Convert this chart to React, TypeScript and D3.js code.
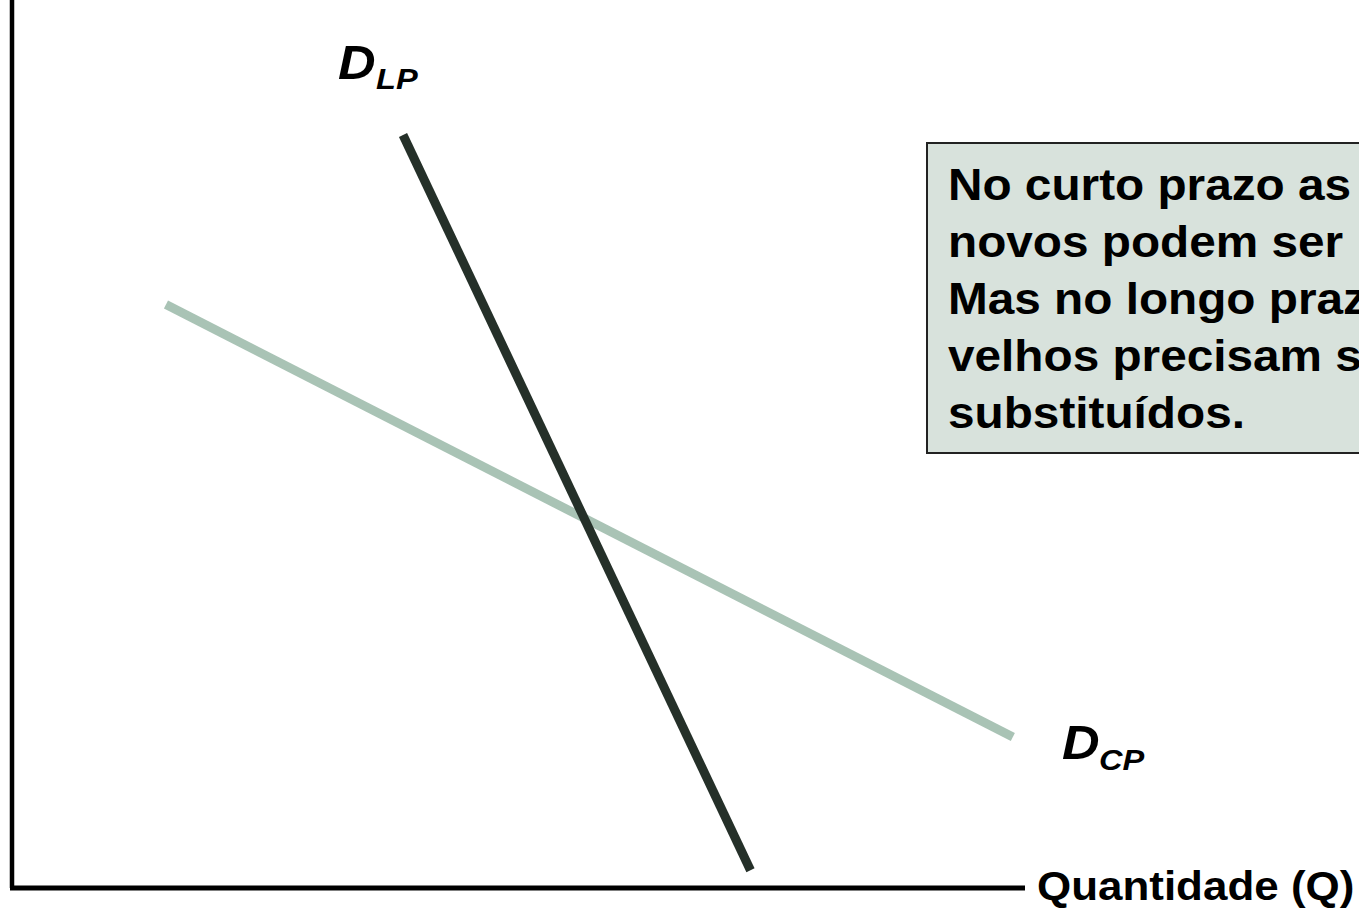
import React from "react";
import * as d3 from "d3";

const W = 1359;
const H = 911;

// Demand curves (quantity, price) in abstract units 0..100
const dLongTerm = [
  { q: 38.6, p: 84.8 },
  { q: 72.9, p: 2.0 },
];
const dShortTerm = [
  { q: 15.2, p: 65.7 },
  { q: 98.8, p: 17.0 },
];
const boxLines = [
  "No curto prazo as",
  "novos podem ser",
  "Mas no longo prazo",
  "velhos precisam ser",
  "substituídos.",
];
const xAxisLabel = "Quantidade (Q)";

const FONT = "Liberation Sans, Arial, Helvetica, sans-serif";
const SX = 1.085;

export default function App() {
  const x = d3.scaleLinear().domain([0, 100]).range([12, 1025]);
  const y = d3.scaleLinear().domain([0, 100]).range([888, 0]);
  const line = d3
    .line<{ q: number; p: number }>()
    .x((d) => x(d.q))
    .y((d) => y(d.p));

  const T = (props: any) => {
    const { x: tx, y: ty, children, ...rest } = props;
    return (
      <text transform={`translate(${tx},${ty}) scale(${SX},1)`} fontFamily={FONT} fontWeight="bold" {...rest}>
        {children}
      </text>
    );
  };

  return (
    <svg
      width={W}
      height={H}
      style={{ position: "absolute", left: 0, top: 0, background: "#fff" }}
    >
      {/* axes */}
      <line x1={x(0)} y1={0} x2={x(0)} y2={y(0)} stroke="#000" strokeWidth={4.5} />
      <line x1={x(0) - 2} y1={y(0)} x2={x(100)} y2={y(0)} stroke="#000" strokeWidth={5} />

      {/* curves */}
      <path d={line(dShortTerm) || ""} stroke="#a9c3b5" strokeWidth={9} fill="none" />
      <path d={line(dLongTerm) || ""} stroke="#253029" strokeWidth={9} fill="none" />

      {/* labels */}
      <T x={338} y={79} fontSize={48} fontStyle="italic">D</T>
      <T x={376} y={89} fontSize={30} fontStyle="italic">LP</T>
      <T x={1062} y={759} fontSize={48} fontStyle="italic">D</T>
      <T x={1099} y={770} fontSize={30} fontStyle="italic">CP</T>

      <T x={1037} y={900} fontSize={40.5}>{xAxisLabel}</T>

      {/* text box */}
      <rect x={927} y={143} width={460} height={310} fill="#d8e2dc" stroke="#222" strokeWidth={2} />
      {boxLines.map((t, i) => (
        <T key={i} x={948} y={200 + i * 57} fontSize={44}>
          {t}
        </T>
      ))}
    </svg>
  );
}
